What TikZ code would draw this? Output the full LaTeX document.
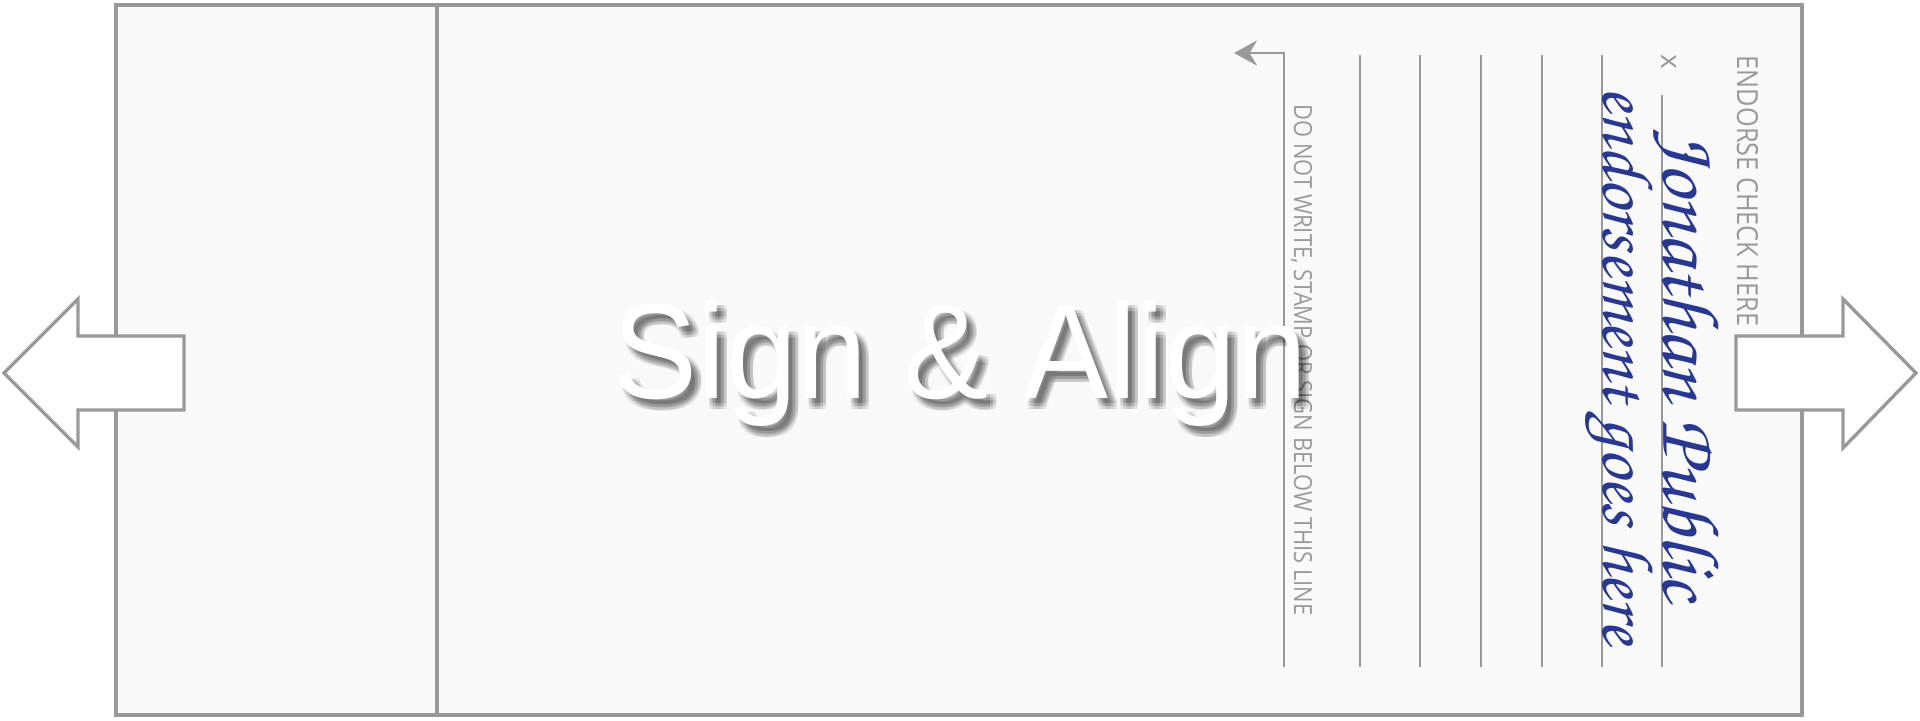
\documentclass[tikz,border=0pt]{standalone}
\usepackage{fontspec}
\usepackage{xcolor}
\usetikzlibrary{arrows.meta}
\newfontfamily\labelfont{Open Sans}
\newfontfamily\titlefont{Liberation Sans}
\newfontfamily\handfont{TeX Gyre Chorus}
\definecolor{edgegray}{HTML}{999999}
\definecolor{paper}{HTML}{F9F9F9}
\definecolor{ink}{RGB}{40,56,145}

\begin{document}
\begin{tikzpicture}[x=0.01cm, y=-0.01cm,
  frame/.style={draw=edgegray, line width=0.95pt},
  rule/.style={draw=edgegray, line width=0.7pt},
  blockarrow/.style={draw=edgegray, fill=white, line width=0.95pt, line join=miter},
  smalltext/.style={text=edgegray, inner sep=0pt, rotate=-90, anchor=base west},
  hand/.style={text=ink, inner sep=0pt, rotate=-90, anchor=base west, font=\handfont\fontsize{19.4}{20}\selectfont},
  headline/.style={anchor=base, inner sep=0pt, font=\titlefont\fontsize{38.4}{40}\selectfont}
]
  \useasboundingbox (0,0) rectangle (1920,720);

  % check back and fold
  \path[frame, fill=paper] (116,5) rectangle (1802,715);
  \draw[frame] (437,5) -- (437,715);

  % signature lines
  \foreach \x in {1360,1420,1481,1542,1602}
    \draw[rule] (\x,55) -- (\x,667);
  \draw[rule] (1662,95) -- (1662,667);

  % limit line with arrow
  \coordinate (guideFoot) at (1284,667);
  \coordinate (guideTop)  at (1284,53);
  \coordinate (guideEnd)  at (1234,53);
  \draw[rule, -{Stealth[length=2.3mm, width=2.5mm]}] (guideFoot) -- (guideTop) -- (guideEnd);

  % labels
  \node[smalltext, font=\labelfont\fontsize{8.25}{9}\selectfont] (endorse) at (1737,55)
    {\scalebox{0.872}[1]{ENDORSE CHECK HERE}};
  \node[smalltext, anchor=center, font=\labelfont\fontsize{8}{9}\selectfont] (mark) at (1669,62) {x};
  \node[smalltext, font=\labelfont\fontsize{7.1}{8}\selectfont] (warning) at (1294,104)
    {\scalebox{0.877}[1]{DO NOT WRITE, STAMP OR SIGN BELOW THIS LINE}};

  % handwriting
  \node[hand] (signer) at (1663,129) {\resizebox{4.71cm}{!}{Jonathan Public}};
  \node[hand] (note)   at (1603,86) {\resizebox{5.57cm}{!}{endorsement goes here}};

  % side arrows
  \draw[blockarrow] (4,373) -- (78,299) -- (78,336) -- (184,336) -- (184,410)
    -- (78,410) -- (78,447) -- cycle;
  \draw[blockarrow] (1916,373) -- (1843,299) -- (1843,336) -- (1736,336) -- (1736,410)
    -- (1843,410) -- (1843,448) -- cycle;

  % title with soft shadow
  \foreach \dx in {4,7,10}
    \foreach \dy in {5,8,11}
      \node[headline, text=black, text opacity=0.075] at (960+\dx,398+\dy)
        {\scalebox{0.944}[1]{Sign \& Align}};
  \node[headline, text=white] (title) at (960,398) {\scalebox{0.944}[1]{Sign \& Align}};
\end{tikzpicture}
\end{document}
